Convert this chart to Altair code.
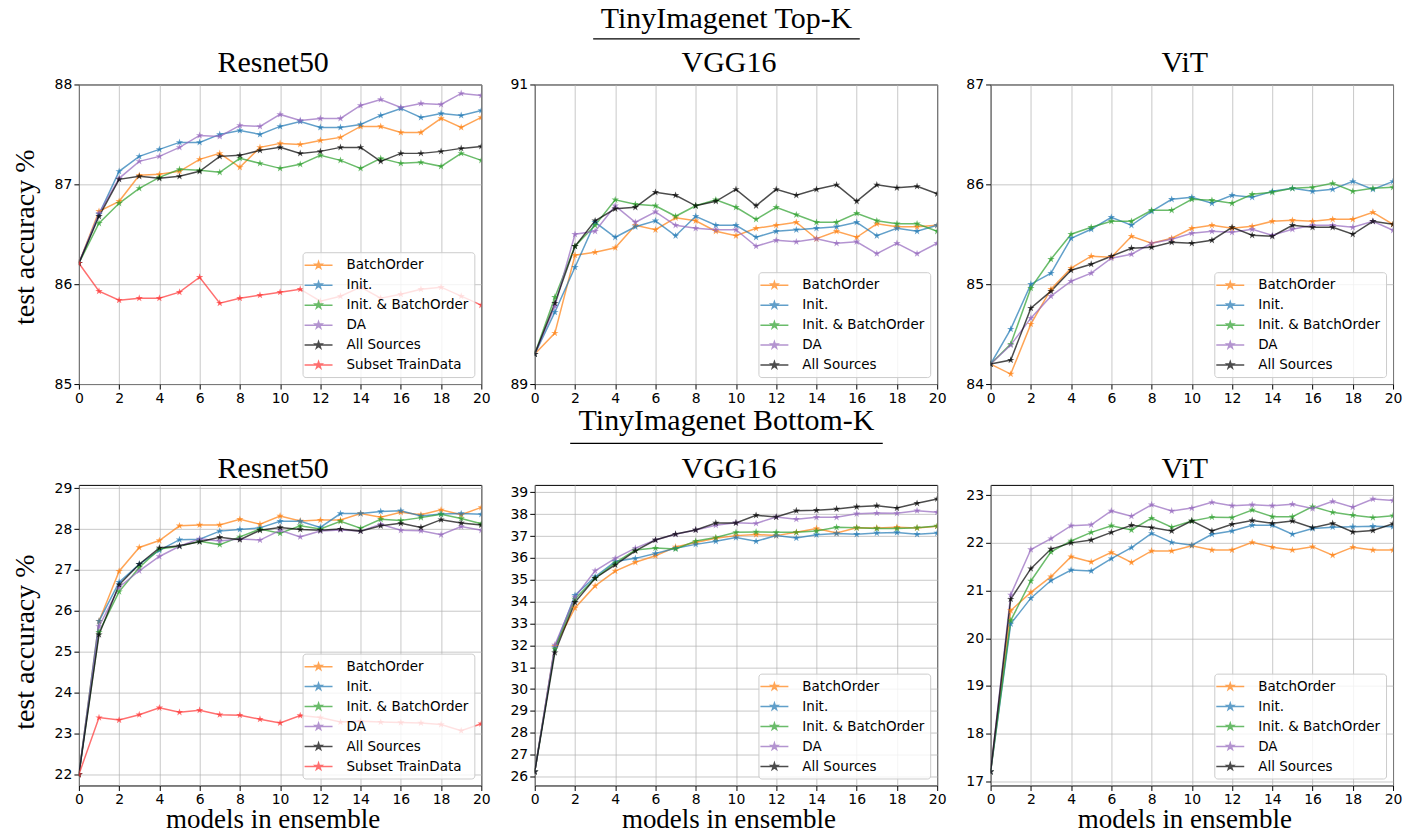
import math
import altair as alt
import pandas as pd

# ---------------- data ----------------
x_models = list(range(21))
series_names = ["BatchOrder", "Init.", "Init. & BatchOrder", "DA", "All Sources", "Subset TrainData"]
series_colors = ["#ff7f0e", "#1f77b4", "#2ca02c", "#9467bd", "#000000", "#ff3333"]

# TinyImagenet Top-K / Resnet50
top_resnet_batchorder = [86.21, 86.73, 86.83, 87.09, 87.10, 87.13, 87.25, 87.31, 87.17, 87.37, 87.41, 87.40, 87.44, 87.47, 87.58, 87.58, 87.52, 87.52, 87.66, 87.57, 87.67]
top_resnet_init = [86.21, 86.70, 87.13, 87.28, 87.35, 87.42, 87.42, 87.50, 87.54, 87.50, 87.58, 87.63, 87.57, 87.57, 87.60, 87.69, 87.76, 87.67, 87.71, 87.69, 87.74]
top_resnet_init_bo = [86.21, 86.61, 86.81, 86.96, 87.07, 87.15, 87.14, 87.12, 87.26, 87.21, 87.16, 87.20, 87.29, 87.24, 87.16, 87.26, 87.21, 87.22, 87.18, 87.31, 87.24]
top_resnet_da = [86.21, 86.71, 87.06, 87.23, 87.28, 87.37, 87.49, 87.48, 87.59, 87.58, 87.70, 87.64, 87.66, 87.66, 87.79, 87.85, 87.77, 87.81, 87.80, 87.91, 87.89]
top_resnet_all = [86.21, 86.68, 87.05, 87.08, 87.06, 87.08, 87.13, 87.28, 87.29, 87.34, 87.37, 87.31, 87.33, 87.37, 87.37, 87.23, 87.31, 87.31, 87.33, 87.36, 87.38]
top_resnet_subset = [86.21, 85.93, 85.84, 85.86, 85.86, 85.92, 86.07, 85.81, 85.86, 85.89, 85.92, 85.95, 85.83, 85.88, 85.97, 85.86, 85.90, 85.95, 85.97, 85.88, 85.79]

# TinyImagenet Top-K / VGG16
top_vgg_batchorder = [89.20, 89.34, 89.86, 89.88, 89.91, 90.06, 90.03, 90.11, 90.09, 90.02, 89.99, 90.04, 90.06, 90.08, 89.97, 90.02, 89.98, 90.07, 90.05, 90.05, 90.06]
top_vgg_init = [89.20, 89.48, 89.78, 90.08, 89.98, 90.05, 90.09, 89.99, 90.12, 90.06, 90.06, 89.98, 90.02, 90.03, 90.04, 90.05, 90.08, 89.99, 90.04, 90.02, 90.06]
top_vgg_init_bo = [89.20, 89.58, 89.92, 90.06, 90.23, 90.20, 90.19, 90.12, 90.19, 90.23, 90.18, 90.10, 90.18, 90.13, 90.08, 90.08, 90.14, 90.09, 90.07, 90.07, 90.02]
top_vgg_da = [89.20, 89.52, 90.00, 90.02, 90.19, 90.08, 90.15, 90.06, 90.04, 90.03, 90.03, 89.92, 89.96, 89.95, 89.97, 89.94, 89.95, 89.87, 89.94, 89.87, 89.94]
top_vgg_all = [89.20, 89.54, 89.92, 90.09, 90.17, 90.18, 90.28, 90.26, 90.19, 90.22, 90.30, 90.19, 90.30, 90.26, 90.30, 90.33, 90.22, 90.33, 90.31, 90.32, 90.27]

# TinyImagenet Top-K / ViT
top_vit_batchorder = [84.20, 84.10, 84.60, 84.95, 85.16, 85.28, 85.27, 85.48, 85.41, 85.46, 85.56, 85.59, 85.56, 85.58, 85.63, 85.64, 85.63, 85.65, 85.65, 85.72, 85.60]
top_vit_init = [84.20, 84.55, 85.00, 85.11, 85.46, 85.55, 85.67, 85.59, 85.73, 85.85, 85.87, 85.81, 85.89, 85.87, 85.93, 85.96, 85.93, 85.95, 86.03, 85.95, 86.03]
top_vit_init_bo = [84.20, 84.40, 84.96, 85.25, 85.50, 85.57, 85.63, 85.63, 85.74, 85.74, 85.85, 85.84, 85.81, 85.90, 85.92, 85.96, 85.97, 86.01, 85.93, 85.96, 85.97]
top_vit_da = [84.20, 84.39, 84.66, 84.88, 85.03, 85.11, 85.26, 85.30, 85.41, 85.45, 85.51, 85.53, 85.52, 85.55, 85.49, 85.55, 85.59, 85.59, 85.57, 85.63, 85.54]
top_vit_all = [84.20, 84.24, 84.76, 84.93, 85.14, 85.20, 85.28, 85.36, 85.37, 85.42, 85.41, 85.44, 85.57, 85.49, 85.48, 85.59, 85.57, 85.57, 85.50, 85.63, 85.60]

# TinyImagenet Bottom-K / Resnet50
bot_resnet_batchorder = [22.00, 25.75, 26.97, 27.55, 27.72, 28.08, 28.10, 28.10, 28.24, 28.12, 28.32, 28.20, 28.22, 28.22, 28.38, 28.29, 28.41, 28.35, 28.47, 28.35, 28.53]
bot_resnet_init = [22.00, 25.75, 26.70, 27.14, 27.48, 27.74, 27.75, 27.95, 27.99, 28.03, 28.19, 28.19, 28.04, 28.38, 28.38, 28.43, 28.45, 28.32, 28.37, 28.38, 28.36]
bot_resnet_init_bo = [22.00, 25.48, 26.47, 27.06, 27.51, 27.58, 27.70, 27.62, 27.81, 28.00, 27.90, 28.08, 28.00, 28.19, 28.02, 28.24, 28.21, 28.28, 28.36, 28.26, 28.13]
bot_resnet_da = [22.00, 25.62, 26.58, 26.98, 27.33, 27.58, 27.76, 27.71, 27.76, 27.73, 27.97, 27.81, 27.95, 27.98, 27.95, 28.12, 27.97, 27.96, 27.86, 28.06, 27.97]
bot_resnet_all = [22.00, 25.42, 26.64, 27.14, 27.54, 27.59, 27.69, 27.80, 27.74, 27.97, 28.04, 27.99, 27.97, 28.00, 27.95, 28.08, 28.14, 28.04, 28.23, 28.15, 28.10]
bot_resnet_subset = [22.00, 23.39, 23.33, 23.46, 23.63, 23.52, 23.57, 23.46, 23.45, 23.35, 23.26, 23.44, 23.39, 23.28, 23.30, 23.28, 23.27, 23.26, 23.22, 23.07, 23.24]

# TinyImagenet Bottom-K / VGG16
bot_vgg_batchorder = [26.22, 31.96, 33.71, 34.72, 35.40, 35.80, 36.10, 36.50, 36.71, 36.90, 37.02, 37.07, 37.02, 37.17, 37.35, 37.14, 37.38, 37.37, 37.40, 37.37, 37.45]
bot_vgg_init = [26.22, 31.90, 34.29, 35.14, 35.84, 35.98, 36.20, 36.44, 36.62, 36.76, 36.93, 36.76, 37.02, 36.91, 37.06, 37.12, 37.08, 37.14, 37.16, 37.08, 37.14]
bot_vgg_init_bo = [26.22, 31.84, 34.12, 35.07, 35.77, 36.36, 36.45, 36.41, 36.77, 36.93, 37.17, 37.19, 37.17, 37.17, 37.23, 37.40, 37.38, 37.35, 37.35, 37.38, 37.46]
bot_vgg_da = [26.22, 32.02, 34.21, 35.41, 35.98, 36.45, 36.82, 37.08, 37.28, 37.49, 37.61, 37.58, 37.87, 37.77, 37.86, 37.86, 38.02, 38.05, 38.04, 38.16, 38.09]
bot_vgg_all = [26.22, 31.67, 33.97, 35.07, 35.68, 36.32, 36.82, 37.09, 37.28, 37.60, 37.60, 37.95, 37.87, 38.16, 38.18, 38.24, 38.34, 38.39, 38.28, 38.50, 38.70]

# TinyImagenet Bottom-K / ViT
bot_vit_batchorder = [17.20, 20.58, 20.96, 21.29, 21.71, 21.60, 21.80, 21.59, 21.83, 21.83, 21.94, 21.85, 21.85, 22.01, 21.91, 21.85, 21.92, 21.74, 21.91, 21.85, 21.85]
bot_vit_init = [17.20, 20.30, 20.84, 21.21, 21.43, 21.41, 21.67, 21.90, 22.20, 22.01, 21.95, 22.18, 22.25, 22.37, 22.37, 22.18, 22.30, 22.33, 22.34, 22.35, 22.34]
bot_vit_init_bo = [17.20, 20.37, 21.20, 21.81, 22.04, 22.22, 22.36, 22.27, 22.52, 22.33, 22.46, 22.54, 22.53, 22.69, 22.55, 22.55, 22.76, 22.64, 22.58, 22.53, 22.57]
bot_vit_da = [17.20, 20.91, 21.86, 22.09, 22.36, 22.38, 22.67, 22.56, 22.80, 22.67, 22.73, 22.85, 22.78, 22.80, 22.78, 22.81, 22.72, 22.87, 22.75, 22.92, 22.89]
bot_vit_all = [17.20, 20.82, 21.46, 21.87, 22.00, 22.06, 22.22, 22.37, 22.32, 22.25, 22.46, 22.25, 22.39, 22.47, 22.41, 22.46, 22.32, 22.41, 22.23, 22.26, 22.40]

x_ticks = list(range(0, 21, 2))

# ---------------- styling helpers ----------------
SERIF = "Liberation Serif"
SANS = "DejaVu Sans"
W = 403
H_TOP = 300
H_BOT = 301


def star(r_out, r_in):
    pts = []
    for i in range(10):
        a = math.radians(-90 + 36 * i)
        r = r_out if i % 2 == 0 else r_in
        pts.append(f"{r * math.cos(a):.3f},{r * math.sin(a):.3f}")
    return "M" + "L".join(pts) + "Z"


STAR = star(1.0, 0.382)
LEGEND_SYMBOL = "M-2,0L2,0" + star(0.5, 0.19)


def long_df(names, arrays):
    rows = []
    for name, vals in zip(names, arrays):
        for xv, yv in zip(x_models, vals):
            rows.append({"x": xv, "y": yv, "series": name})
    return pd.DataFrame(rows)


def text_layer(txt, x, y, size, angle=0):
    kw = dict(font=SERIF, fontSize=size, align="center", baseline="alphabetic", color="black")
    if angle:
        kw["angle"] = angle
    return alt.Chart(pd.DataFrame({"t": [txt]})).mark_text(**kw).encode(
        text="t:N", x=alt.value(x), y=alt.value(y)
    )


def make_legend():
    return alt.Legend(
        title=None, orient="bottom-right", offset=7, padding=5,
        fillColor="rgba(255,255,255,0.8)", strokeColor="#cccccc", cornerRadius=3,
        symbolType=LEGEND_SYMBOL, symbolSize=196, symbolOffset=3, labelOffset=20,
        symbolStrokeWidth=1.5, symbolOpacity=0.7, labelFont=SANS, labelFontSize=13.5,
        labelColor="black", rowPadding=5, labelLimit=400,
    )


def panel(names, arrays, y_domain, y_ticks, height, title, title_y,
          ylabel_y=None, xlabel=False, suptitle=None, anchor=None):
    df = long_df(names, arrays)
    colors = [series_colors[series_names.index(n)] for n in names]
    xs = alt.X("x:Q", scale=alt.Scale(domain=[0, 20], nice=False, zero=False),
               axis=alt.Axis(values=x_ticks, title=None, format="d"))
    ys = alt.Y("y:Q", scale=alt.Scale(domain=y_domain, nice=False, zero=False),
               axis=alt.Axis(values=y_ticks, title=None, format="d"))
    lines = alt.Chart(df).mark_line(strokeWidth=1.5, opacity=0.7, clip=True).encode(
        x=xs, y=ys,
        color=alt.Color("series:N", scale=alt.Scale(domain=names, range=colors), legend=make_legend()),
    )
    points = alt.Chart(df).mark_point(shape=STAR, filled=True, size=60, opacity=0.7,
                                      strokeWidth=0, clip=True).encode(
        x=xs, y=ys,
        fill=alt.Fill("series:N", scale=alt.Scale(domain=names, range=colors), legend=make_legend()),
    )
    layers = [lines, points, text_layer(title, W / 2 - 7, title_y, 30)]
    if ylabel_y is not None:
        layers.append(text_layer("test accuracy %", -45, ylabel_y, 28, angle=270))
    if xlabel:
        layers.append(text_layer("models in ensemble", W / 2 - 7, height + 43, 27))
    if suptitle is not None:
        txt, base_y, ul_y, ul_x1, ul_x2 = suptitle
        layers.append(text_layer(txt, 192, base_y, 30))
        layers.append(
            alt.Chart(pd.DataFrame({"t": [txt]})).mark_rule(color="black", strokeWidth=1.3).encode(
                x=alt.value(ul_x1), x2=alt.value(ul_x2), y=alt.value(ul_y), y2=alt.value(ul_y)
            )
        )
    if anchor is not None:
        ax, ay = anchor
        layers.append(
            alt.Chart(pd.DataFrame({"t": [0]})).mark_rule(opacity=0, strokeWidth=0).encode(
                x=alt.value(ax), x2=alt.value(ax), y=alt.value(ay), y2=alt.value(ay)
            )
        )
    return alt.layer(*layers).properties(width=W, height=height)


five = series_names[:5]

p1 = panel(series_names,
           [top_resnet_batchorder, top_resnet_init, top_resnet_init_bo, top_resnet_da, top_resnet_all, top_resnet_subset],
           [85, 88], [85, 86, 87, 88], H_TOP, "Resnet50", -12.5, ylabel_y=H_TOP / 2 + 3,
           anchor=(-78, -83))
p2 = panel(five,
           [top_vgg_batchorder, top_vgg_init, top_vgg_init_bo, top_vgg_da, top_vgg_all],
           [89, 91], [89, 90, 91], H_TOP, "VGG16", -12.5,
           suptitle=("TinyImagenet Top-K", -56.3, -45.7, 58.5, 325.5))
p3 = panel(five,
           [top_vit_batchorder, top_vit_init, top_vit_init_bo, top_vit_da, top_vit_all],
           [84, 87], [84, 85, 86, 87], H_TOP, "ViT", -12.5)
p4 = panel(series_names,
           [bot_resnet_batchorder, bot_resnet_init, bot_resnet_init_bo, bot_resnet_da, bot_resnet_all, bot_resnet_subset],
           [21.73, 29.08], list(range(22, 30)), H_BOT, "Resnet50", -7, ylabel_y=H_BOT / 2 + 7,
           xlabel=True)
p5 = panel(five,
           [bot_vgg_batchorder, bot_vgg_init, bot_vgg_init_bo, bot_vgg_da, bot_vgg_all],
           [25.59, 39.34], list(range(26, 40)), H_BOT, "VGG16", -7, xlabel=True,
           suptitle=("TinyImagenet Bottom-K", -54.5, -41.5, 35.5, 348.5))
p6 = panel(five,
           [bot_vit_batchorder, bot_vit_init, bot_vit_init_bo, bot_vit_da, bot_vit_all],
           [16.91, 23.216], list(range(17, 24)), H_BOT, "ViT", -7, xlabel=True,
           anchor=(426, 351))

chart = (
    alt.concat(p1, p2, p3, p4, p5, p6, columns=3, spacing={"row": 101, "column": 53.5}, bounds="flush")
    .resolve_scale(x="independent", y="independent", color="independent", fill="independent")
    .resolve_legend(color="independent", fill="independent")
    .properties(padding=0, background="white")
    .configure_axis(labelFont=SANS, labelFontSize=14, labelColor="black", tickColor="black",
                    tickSize=5, tickWidth=1, labelPadding=2, gridColor="#b0b0b0", gridWidth=1,
                    gridOpacity=0.7, domain=False, labelFlush=False, labelOverlap=False)
    .configure_view(stroke="black", strokeWidth=1)
)

chart.save("out.html", embed_options={"renderer": "svg", "actions": False})
